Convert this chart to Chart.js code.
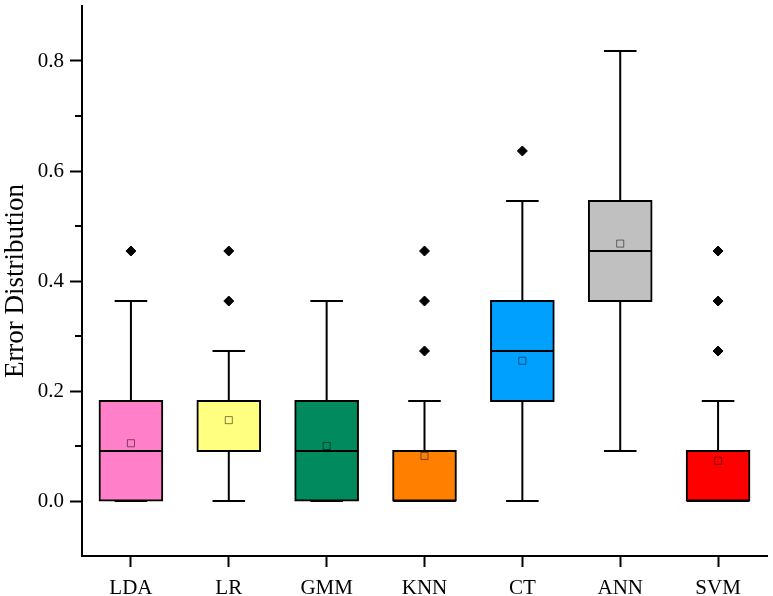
<!DOCTYPE html>
<html>
<head>
<meta charset="utf-8">
<script src="https://cdn.jsdelivr.net/npm/chart.js@4.4.1/dist/chart.umd.min.js"></script>
<style>
  html, body { margin: 0; padding: 0; background: #fff; }
  #wrap { width: 773px; height: 596px; }
</style>
</head>
<body>
<div id="wrap"><canvas id="myChart" width="773" height="596"></canvas></div>
<script>
// datos de las cajas
var categorias = ['LDA', 'LR', 'GMM', 'KNN', 'CT', 'ANN', 'SVM'];
var bigoteInf = [0, 0, 0, 0, 0, 0.0909, 0];
var q1 = [0, 0.0909, 0, 0, 0.1818, 0.3636, 0];
var mediana = [0.0909, 0.0909, 0.0909, 0, 0.2727, 0.4545, 0];
var q3 = [0.1818, 0.1818, 0.1818, 0.0909, 0.3636, 0.5455, 0.0909];
var bigoteSup = [0.3636, 0.2727, 0.3636, 0.1818, 0.5455, 0.8182, 0.1818];
var medias = [0.105, 0.147, 0.100, 0.082, 0.255, 0.468, 0.073];
var atipicos = [[0.4545], [0.3636, 0.4545], [], [0.2727, 0.3636, 0.4545], [0.6364], [], [0.2727, 0.3636, 0.4545]];
var colores = ['#FF80C8', '#FFFF80', '#008A5E', '#FF8000', '#00A0FF', '#C0C0C0', '#FF0000'];
var ticksY = [-0.1, 0, 0.1, 0.2, 0.3, 0.4, 0.5, 0.6, 0.7, 0.8, 0.9];

var fuente = 'Liberation Serif';

// armar los puntos
var puntosMedia = [];
var puntosAtipicos = [];
var cajas = [];
for (var i = 0; i < categorias.length; i++) {
    puntosMedia.push({x: categorias[i], y: medias[i]});
    cajas.push([q1[i], q3[i]]);
    for (var j = 0; j < atipicos[i].length; j++) {
        puntosAtipicos.push({x: categorias[i], y: atipicos[i][j]});
    }
}

function esMayor(v) {
    var n = Math.round(v * 10);
    return n % 2 === 0;
}

// bigotes, medianas y ticks menores
var pluginCajas = {
    id: 'cajas',
    beforeDatasetsDraw: function(chart) {
        var ctx = chart.ctx;
        var xs = chart.scales.x, ys = chart.scales.y;
        var meta = chart.getDatasetMeta(2);
        ctx.save();
        ctx.strokeStyle = '#000';
        ctx.lineWidth = 2;
        for (var i = 0; i < categorias.length; i++) {
            var x = xs.getPixelForValue(i);
            var w = meta.data[i].width * 0.52;
            var yl = ys.getPixelForValue(bigoteInf[i]);
            var yh = ys.getPixelForValue(bigoteSup[i]);
            ctx.beginPath();
            ctx.moveTo(x, yl); ctx.lineTo(x, yh);
            ctx.moveTo(x - w / 2, yl); ctx.lineTo(x + w / 2, yl);
            ctx.moveTo(x - w / 2, yh); ctx.lineTo(x + w / 2, yh);
            ctx.stroke();
        }
        ctx.restore();
    },
    afterDatasetDraw: function(chart, args) {
        if (args.index !== 2) return;
        var ctx = chart.ctx;
        var xs = chart.scales.x, ys = chart.scales.y;
        var meta = chart.getDatasetMeta(2);
        ctx.save();
        ctx.strokeStyle = '#000';
        ctx.lineWidth = 2;
        for (var i = 0; i < categorias.length; i++) {
            var x = xs.getPixelForValue(i);
            var w = meta.data[i].width;
            var ym = ys.getPixelForValue(mediana[i]);
            ctx.beginPath();
            ctx.moveTo(x - w / 2, ym); ctx.lineTo(x + w / 2, ym);
            ctx.stroke();
        }
        ctx.restore();
    },
    afterDraw: function(chart) {
        var ctx = chart.ctx;
        var ys = chart.scales.y;
        ctx.save();
        ctx.strokeStyle = '#000';
        ctx.lineWidth = 2;
        for (var k = 0; k < ticksY.length; k++) {
            if (esMayor(ticksY[k]) || ticksY[k] < 0 || ticksY[k] > 0.85) continue;
            var y = ys.getPixelForValue(ticksY[k]);
            ctx.beginPath();
            ctx.moveTo(ys.right - 7, y); ctx.lineTo(ys.right, y);
            ctx.stroke();
        }
        ctx.restore();
    }
};

var ctx = document.getElementById('myChart').getContext('2d');
var myChart = new Chart(ctx, {
    type: 'bar',
    data: {
        labels: categorias,
        datasets: [{
            type: 'line',
            label: 'media',
            data: puntosMedia,
            showLine: false,
            pointStyle: 'rect',
            pointRadius: 5,
            pointBackgroundColor: 'rgba(0,0,0,0)',
            pointBorderColor: 'rgba(0,0,0,0.5)',
            pointBorderWidth: 1
        }, {
            type: 'line',
            label: 'atipicos',
            data: puntosAtipicos,
            showLine: false,
            pointStyle: 'rectRot',
            pointRadius: 5,
            pointBackgroundColor: '#000',
            pointBorderColor: '#000',
            pointBorderWidth: 1
        }, {
            type: 'bar',
            label: 'caja',
            data: cajas,
            backgroundColor: colores,
            borderColor: '#000',
            borderWidth: 2,
            borderSkipped: false,
            inflateAmount: 1,
            categoryPercentage: 0.8,
            barPercentage: 0.8
        }]
    },
    options: {
        responsive: false,
        animation: false,
        layout: { padding: { top: 5, right: 2, left: 0, bottom: 0 } },
        plugins: {
            legend: { display: false },
            tooltip: { enabled: false }
        },
        scales: {
            x: {
                type: 'category',
                offset: true,
                grid: {
                    offset: false,
                    drawOnChartArea: false,
                    drawTicks: true,
                    tickLength: 11,
                    tickWidth: 2,
                    tickColor: '#000'
                },
                border: { display: true, color: '#000', width: 2 },
                ticks: {
                    color: '#000',
                    padding: 9,
                    font: { family: fuente, size: 21 }
                },
                afterFit: function(scale) {
                    scale.height = 40;
                    scale.paddingLeft = 0;
                    scale.paddingRight = 0;
                }
            },
            y: {
                min: -0.1,
                max: 0.9,
                afterBuildTicks: function(scale) {
                    scale.ticks = ticksY.map(function(v) { return {value: v}; });
                },
                grid: {
                    drawOnChartArea: false,
                    drawTicks: true,
                    tickLength: 12,
                    tickWidth: 2,
                    tickColor: function(c) {
                        var v = c.tick ? c.tick.value : 0;
                        return (esMayor(v) && v >= 0 && v < 0.85) ? '#000' : 'rgba(0,0,0,0)';
                    }
                },
                border: { display: true, color: '#000', width: 2 },
                ticks: {
                    color: '#000',
                    padding: 6,
                    font: { family: fuente, size: 21 },
                    callback: function(v) {
                        if (esMayor(v) && v >= 0 && v < 0.85) return v.toFixed(1);
                        return '';
                    }
                },
                title: {
                    display: true,
                    text: 'Error Distribution',
                    color: '#000',
                    padding: { top: 0, bottom: 0 },
                    font: { family: fuente, size: 27 }
                },
                afterFit: function(scale) {
                    scale.width = 82;
                    scale.paddingTop = 0;
                    scale.paddingBottom = 0;
                }
            }
        }
    },
    plugins: [pluginCajas]
});
</script>
</body>
</html>
